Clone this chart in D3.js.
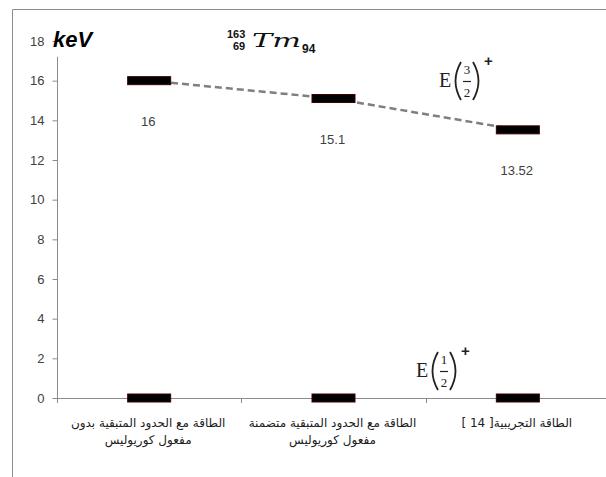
<!DOCTYPE html>
<html>
<head>
<meta charset="utf-8">
<script src="https://cdn.jsdelivr.net/npm/d3@7"></script>
<style>
body { margin: 0; background: #fff; }
</style>
</head>
<body>
<script>
// chart data
var categories = [
  ["الطاقة مع الحدود المتبقية بدون", "مفعول كوريوليس"],
  ["الطاقة مع الحدود المتبقية متضمنة", "مفعول كوريوليس"],
  ["الطاقة التجريبية[ 14 ]"]
];
var level32 = [16, 15.1, 13.52];
var level12 = [0, 0, 0];
var valueLabels = ["16", "15.1", "13.52"];
var yTicks = [0, 2, 4, 6, 8, 10, 12, 14, 16, 18];

var W = 606, H = 477;

var svg = d3.select("body").append("svg")
  .attr("width", W)
  .attr("height", H);

// outer frame (only top and left visible)
svg.append("path")
  .attr("d", "M12.5,477V9.5H606")
  .attr("fill", "none")
  .attr("stroke", "#8c8c8c")
  .attr("stroke-width", 1);

var x = d3.scaleBand().domain(d3.range(categories.length)).range([57, 610]);
var y = d3.scaleLinear().domain([0, 18]).range([398, 41]);

// y axis
var yAxis = svg.append("g")
  .attr("transform", "translate(57.5,0)")
  .call(d3.axisLeft(y).tickValues(yTicks).tickSize(5).tickPadding(8));
yAxis.select(".domain").remove();
yAxis.selectAll(".tick line").attr("stroke", "#8c8c8c");
yAxis.selectAll(".tick text")
  .attr("fill", "#404040")
  .style("font", "13px 'Liberation Sans', Arial, sans-serif");
svg.append("line")
  .attr("x1", 57.5).attr("x2", 57.5)
  .attr("y1", y(0)).attr("y2", y(17.2))
  .attr("stroke", "#8c8c8c");

// x axis
svg.append("line")
  .attr("x1", 57).attr("x2", W)
  .attr("y1", y(0) + 0.5).attr("y2", y(0) + 0.5)
  .attr("stroke", "#8c8c8c");
svg.selectAll(".xtick")
  .data(d3.range(categories.length))
  .enter().append("line")
  .attr("x1", function(d) { return Math.round(x(d)) + 0.5; })
  .attr("x2", function(d) { return Math.round(x(d)) + 0.5; })
  .attr("y1", y(0)).attr("y2", y(0) + 5)
  .attr("stroke", "#8c8c8c");

// category labels
var cat = svg.selectAll(".cat")
  .data(categories)
  .enter().append("text")
  .attr("text-anchor", "middle")
  .attr("direction", "rtl")
  .attr("fill", "#202020")
  .style("font", "12px 'DejaVu Sans', sans-serif");
cat.each(function(lines, i) {
  var t = d3.select(this);
  lines.forEach(function(l, j) {
    t.append("tspan")
      .attr("x", x(i) + x.bandwidth() / 2 - 1)
      .attr("y", 427 + j * 17)
      .text(l);
  });
});

var cx = function(i) { return x(i) + x.bandwidth() / 2; };

// dashed connector
svg.append("path")
  .datum(level32)
  .attr("d", d3.line().x(function(d, i) { return cx(i); }).y(function(d) { return y(d); }))
  .attr("fill", "none")
  .attr("stroke", "#7f7f7f")
  .attr("stroke-width", 2.5)
  .attr("stroke-dasharray", "7,4");

// level bars
var bw = 43, bh = 8;
[level32, level12].forEach(function(series) {
  svg.append("g").selectAll("rect")
    .data(series)
    .enter().append("rect")
    .attr("x", function(d, i) { return cx(i) - bw / 2; })
    .attr("y", function(d) { return y(d) - bh / 2; })
    .attr("width", bw)
    .attr("height", bh)
    .attr("fill", "#000")
    .attr("stroke", "#3a0000")
    .attr("stroke-width", 1);
});

// value labels
svg.selectAll(".val")
  .data(level32)
  .enter().append("text")
  .attr("x", function(d, i) { return cx(i) - 1; })
  .attr("y", function(d) { return y(d) + 45; })
  .attr("text-anchor", "middle")
  .attr("fill", "#404040")
  .style("font", "13px 'Liberation Sans', Arial, sans-serif")
  .text(function(d, i) { return valueLabels[i]; });

// keV
svg.append("text")
  .attr("x", 53).attr("y", 47)
  .attr("fill", "#000")
  .style("font", "italic bold 22px 'Liberation Sans', Arial, sans-serif")
  .text("keV");

// nucleus title
var tt = svg.append("g").attr("fill", "#111");
tt.append("text").attr("x", 227).attr("y", 38)
  .style("font", "bold 11px 'Liberation Sans', sans-serif").text("163");
tt.append("text").attr("x", 233).attr("y", 50)
  .style("font", "bold 11px 'Liberation Sans', sans-serif").text("69");
tt.append("text").attr("x", 252).attr("y", 47)
  .attr("textLength", 49).attr("lengthAdjust", "spacingAndGlyphs")
  .style("font", "italic 19px 'DejaVu Serif', serif").text("Tm");
tt.append("text").attr("x", 302).attr("y", 53)
  .style("font", "bold 12px 'Liberation Sans', sans-serif").text("94");

// spin labels E(n/2)+
function spinLabel(px, py, num) {
  var g = svg.append("g").attr("transform", "translate(" + px + "," + py + ")")
    .attr("fill", "#222");
  g.append("text").attr("x", 0).attr("y", 7)
    .style("font", "20px 'Liberation Serif', serif").text("E");
  g.append("path")
    .attr("d", "M22,-18Q11,1 22,20")
    .attr("fill", "none").attr("stroke", "#222").attr("stroke-width", 1.8);
  g.append("path")
    .attr("d", "M34,-18Q45,1 34,20")
    .attr("fill", "none").attr("stroke", "#222").attr("stroke-width", 1.8);
  g.append("text").attr("x", 28).attr("y", -6).attr("text-anchor", "middle")
    .style("font", "13px 'Liberation Serif', serif").text(num);
  g.append("line").attr("x1", 24).attr("x2", 32).attr("y1", 1.5).attr("y2", 1.5)
    .attr("stroke", "#222").attr("stroke-width", 1.2);
  g.append("text").attr("x", 28).attr("y", 17).attr("text-anchor", "middle")
    .style("font", "13px 'Liberation Serif', serif").text("2");
  g.append("text").attr("x", 45).attr("y", -14)
    .style("font", "bold 15px 'Liberation Sans', sans-serif").text("+");
}
spinLabel(439, 80, "3");
spinLabel(416, 370, "1");
</script>
</body>
</html>
